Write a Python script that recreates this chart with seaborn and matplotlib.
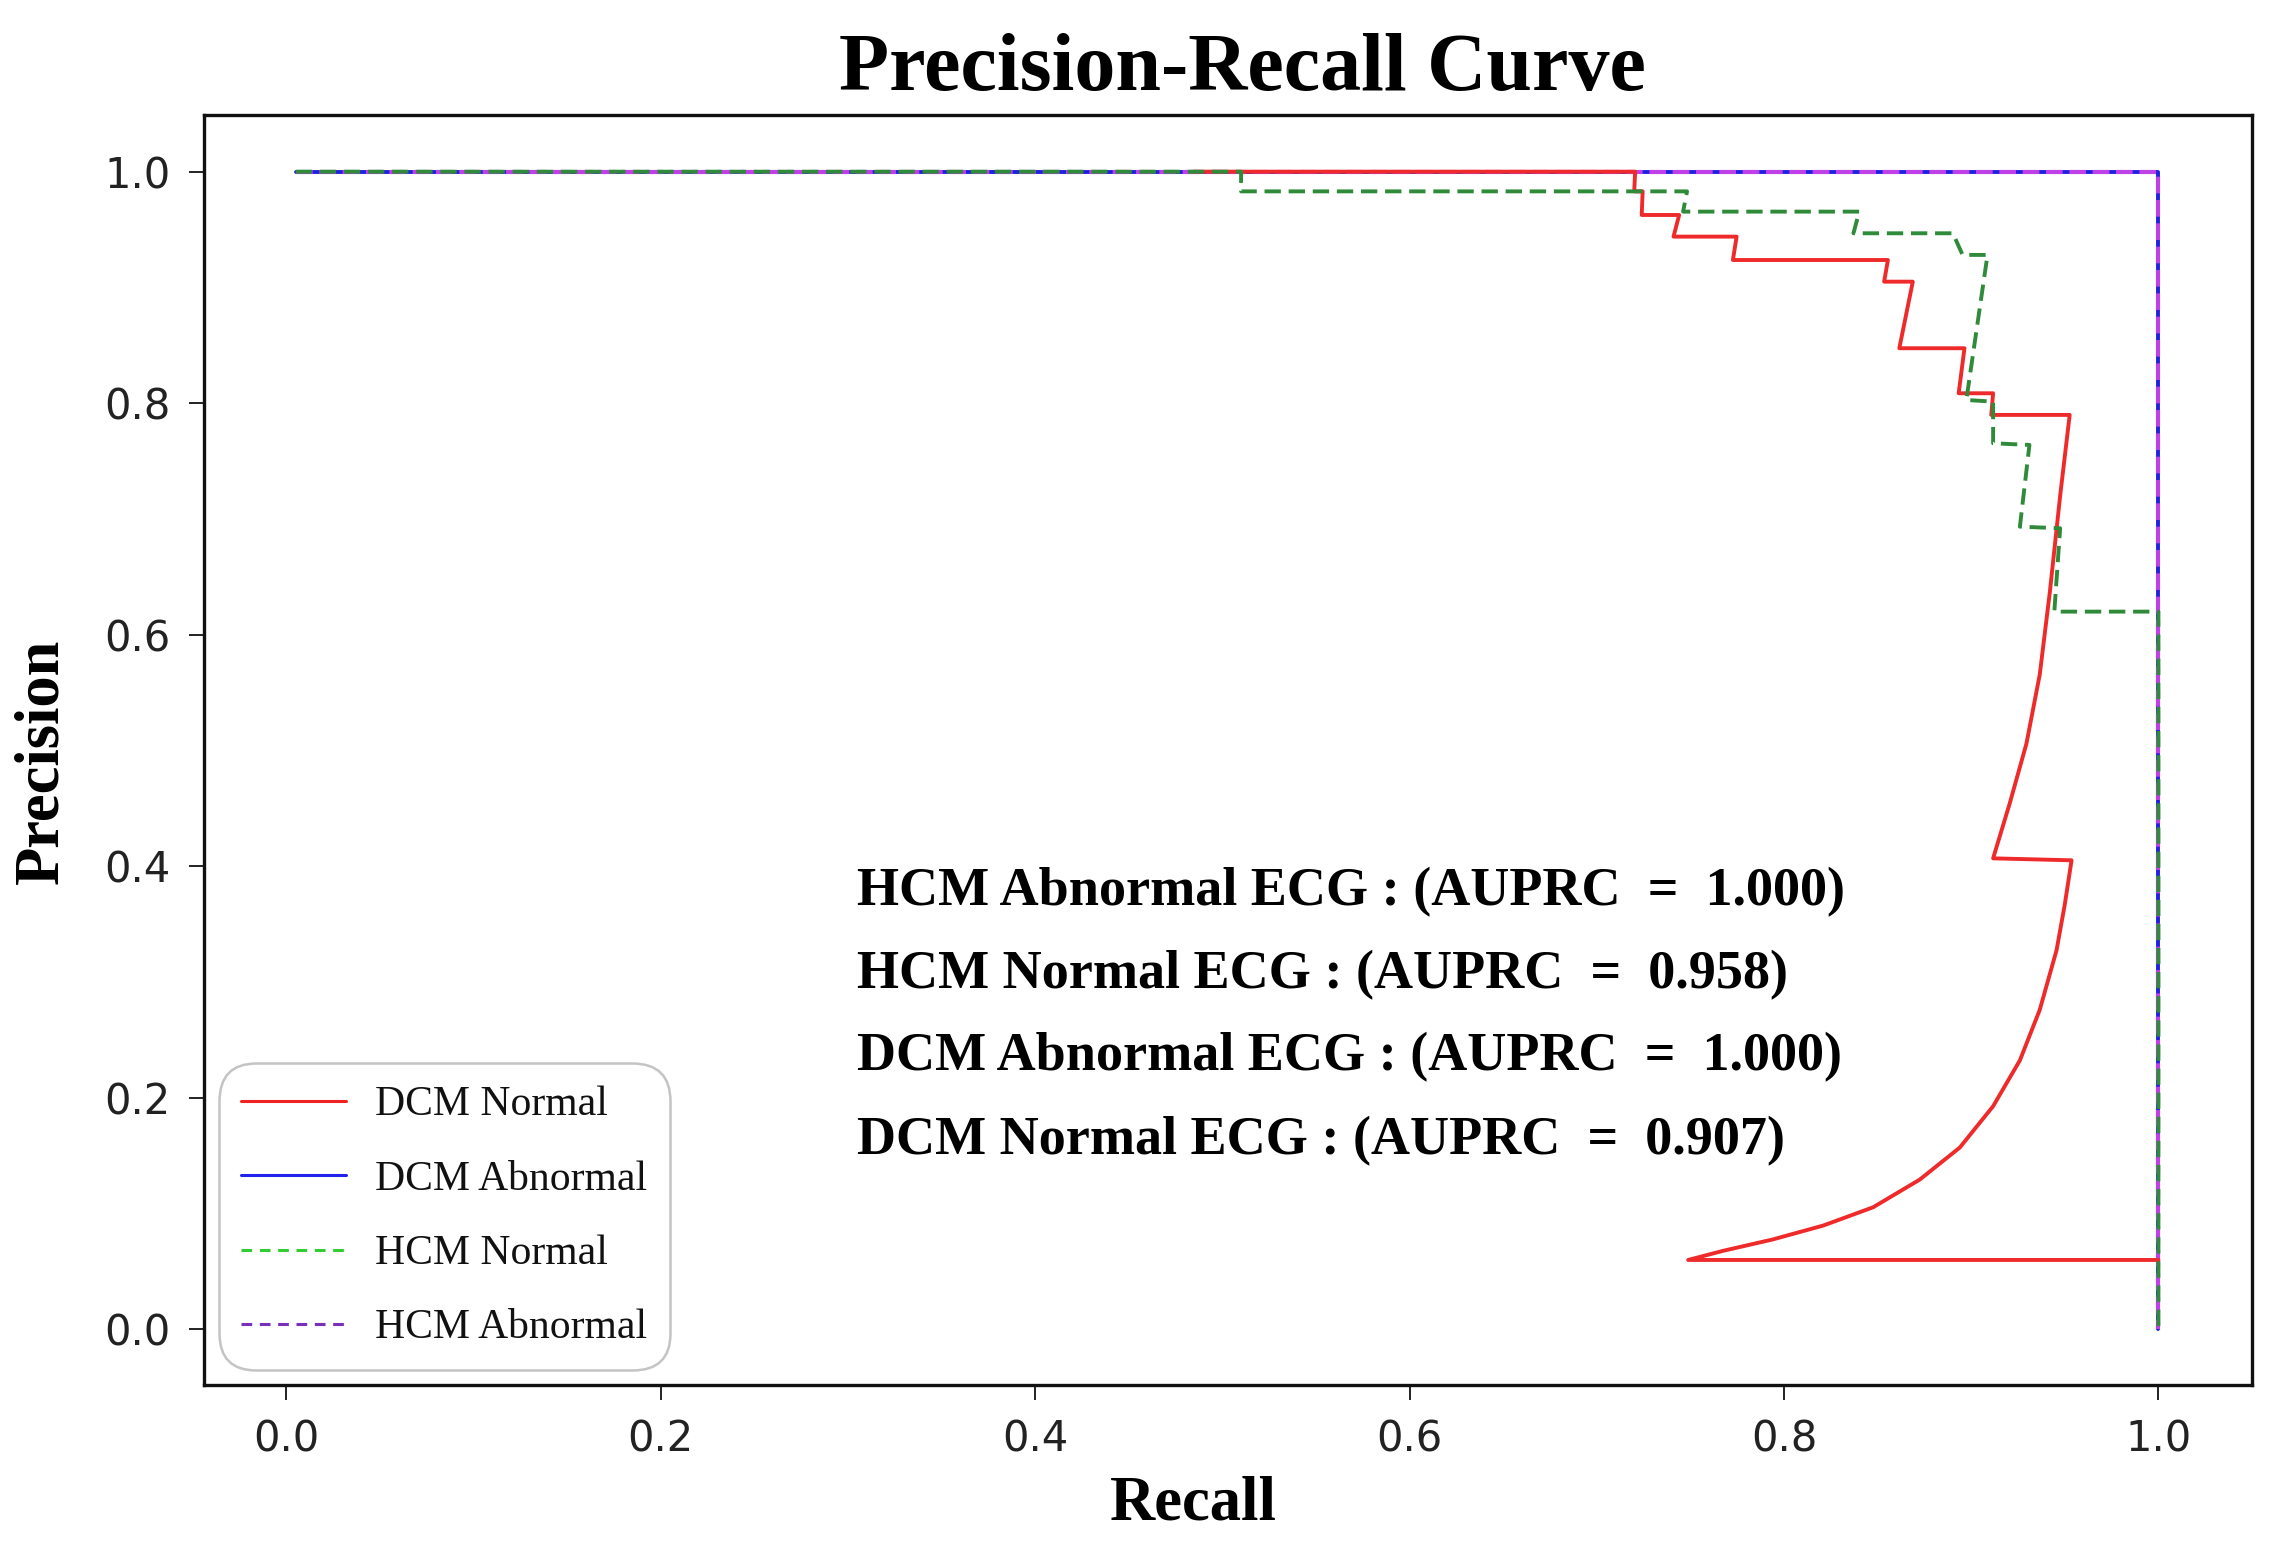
import matplotlib
matplotlib.use("Agg")
import matplotlib.pyplot as plt
from matplotlib.lines import Line2D
import seaborn as sns
import pandas as pd

# ---------------- data ----------------
dcm_normal_recall = [0.4846, 0.7205, 0.7200, 0.7245, 0.7240, 0.7440, 0.7410, 0.7747,
                     0.7727, 0.8555, 0.8535, 0.8688, 0.8616, 0.8964, 0.8933, 0.9117,
                     0.9107, 0.9526, 0.9475, 0.9420, 0.9366, 0.9295, 0.9206, 0.9117,
                     0.9536, 0.9500, 0.9456, 0.9366, 0.9260, 0.9117, 0.8939, 0.8725,
                     0.8476, 0.8209, 0.7942, 0.7675, 0.7488, 1.0]
dcm_normal_precision = [1.0, 1.0, 0.983, 0.983, 0.9626, 0.9626, 0.9439, 0.9439,
                        0.9237, 0.9237, 0.9050, 0.9050, 0.8475, 0.8475, 0.8086, 0.8086,
                        0.7899, 0.7899, 0.7200, 0.6369, 0.5655, 0.5060, 0.4545, 0.4069,
                        0.4052, 0.3672, 0.3276, 0.2760, 0.2324, 0.1928, 0.1571, 0.1294,
                        0.1055, 0.0897, 0.0778, 0.0679, 0.0600, 0.0600]

dcm_abnormal_recall = [0.005, 1.0, 1.0]
dcm_abnormal_precision = [1.0, 1.0, 0.0]

hcm_normal_recall = [0.005, 0.510, 0.510, 0.7482, 0.7461, 0.8402, 0.8371, 0.8902,
                     0.8954, 0.9087, 0.8974, 0.9117, 0.9117, 0.9311, 0.9260, 0.9475,
                     0.9444, 1.0, 1.0]
hcm_normal_precision = [1.0, 1.0, 0.983, 0.983, 0.9655, 0.9655, 0.9468, 0.9468,
                        0.9281, 0.9281, 0.8028, 0.8014, 0.7654, 0.7640, 0.6934, 0.6920,
                        0.6200, 0.6200, 0.0]

hcm_abnormal_recall = [0.005, 1.0, 1.0]
hcm_abnormal_precision = [1.0, 1.0, 0.0]

legend_labels = ["DCM Normal", "DCM Abnormal", "HCM Normal", "HCM Abnormal"]
annotation_lines = [
    "HCM Abnormal ECG : (AUPRC  =  1.000)",
    "HCM Normal ECG : (AUPRC  =  0.958)",
    "DCM Abnormal ECG : (AUPRC  =  1.000)",
    "DCM Normal ECG : (AUPRC  =  0.907)",
]
x_ticks = [0.0, 0.2, 0.4, 0.6, 0.8, 1.0]
y_ticks = [0.0, 0.2, 0.4, 0.6, 0.8, 1.0]

# ---------------- styling ----------------
sns.set_theme(style="white")
plt.rcParams["font.family"] = ["DejaVu Sans"]
SERIF = ["Liberation Serif", "DejaVu Serif"]

fig = plt.figure(figsize=(22.81, 15.43), dpi=100)
ax = fig.add_axes([0.0894, 0.1024, 0.8979, 0.8231])

df_dn = pd.DataFrame({"Recall": dcm_normal_recall, "Precision": dcm_normal_precision})
df_da = pd.DataFrame({"Recall": dcm_abnormal_recall, "Precision": dcm_abnormal_precision})
df_hn = pd.DataFrame({"Recall": hcm_normal_recall, "Precision": hcm_normal_precision})
df_ha = pd.DataFrame({"Recall": hcm_abnormal_recall, "Precision": hcm_abnormal_precision})

sns.lineplot(data=df_da, x="Recall", y="Precision", sort=False, estimator=None,
             color="#2020e0", linewidth=2.8, ax=ax, zorder=2)
sns.lineplot(data=df_ha, x="Recall", y="Precision", sort=False, estimator=None,
             color="#c040e8", linewidth=3.0, linestyle=(0, (4.0, 1.6)), ax=ax, zorder=3)
sns.lineplot(data=df_dn, x="Recall", y="Precision", sort=False, estimator=None,
             color="#ee2a2a", linewidth=2.8, ax=ax, zorder=4)
sns.lineplot(data=df_hn, x="Recall", y="Precision", sort=False, estimator=None,
             color="#2f8a3a", linewidth=2.8, linestyle=(0, (4.2, 2.0)), ax=ax, zorder=5)

ax.set_xlim(-0.044, 1.05)
ax.set_ylim(-0.048, 1.049)
ax.set_xticks(x_ticks)
ax.set_yticks(y_ticks)
ax.set_xticklabels([f"{v:.1f}" for v in x_ticks])
ax.set_yticklabels([f"{v:.1f}" for v in y_ticks])
ax.tick_params(axis="both", which="major", direction="out", length=11, width=1.4,
               color="#222222", labelsize=30, labelcolor="#222222", pad=13,
               bottom=True, left=True)
for s in ax.spines.values():
    s.set_color("#111111")
    s.set_linewidth(2.4)

ax.set_xlabel("Recall", fontsize=45, fontweight="bold", family=SERIF, color="black")
ax.set_ylabel("Precision", fontsize=45, fontweight="bold", family=SERIF, color="black")
ax.xaxis.set_label_coords(0.483, -0.071)
ax.yaxis.set_label_coords(-0.0645, 0.491)

fig.text(1242 / 2281, 1 - 90 / 1543, "Precision-Recall Curve", ha="center",
         va="baseline", fontsize=59, fontweight="bold", family=SERIF, color="black")

ann_y = [0.3661, 0.2950, 0.2237, 0.1510]
for txt, yy in zip(annotation_lines, ann_y):
    ax.text(0.3047, yy, txt, ha="left", va="baseline", fontsize=39,
            fontweight="bold", family=SERIF, color="black")

handles = [
    Line2D([], [], color="#ee2222", lw=2.2, linestyle="-"),
    Line2D([], [], color="#2222ee", lw=2.2, linestyle="-"),
    Line2D([], [], color="#33cc33", lw=2.2, linestyle=(0, (3.5, 2.5))),
    Line2D([], [], color="#7a2fb8", lw=2.2, linestyle=(0, (3.5, 2.5))),
]
leg = ax.legend(handles=handles, labels=legend_labels, loc="lower left",
                prop={"family": SERIF, "size": 30}, frameon=True, fancybox=True,
                framealpha=1.0, edgecolor="#c4c4c4", borderaxespad=0.35,
                handlelength=2.5, handletextpad=0.7, labelspacing=0.86,
                borderpad=0.55)
leg.get_frame().set_linewidth(1.8)
leg.get_frame().set_boxstyle("round", pad=0, rounding_size=0.9)
for t in leg.get_texts():
    t.set_color("#111111")

fig.savefig("out.png", dpi=100, facecolor="white")
